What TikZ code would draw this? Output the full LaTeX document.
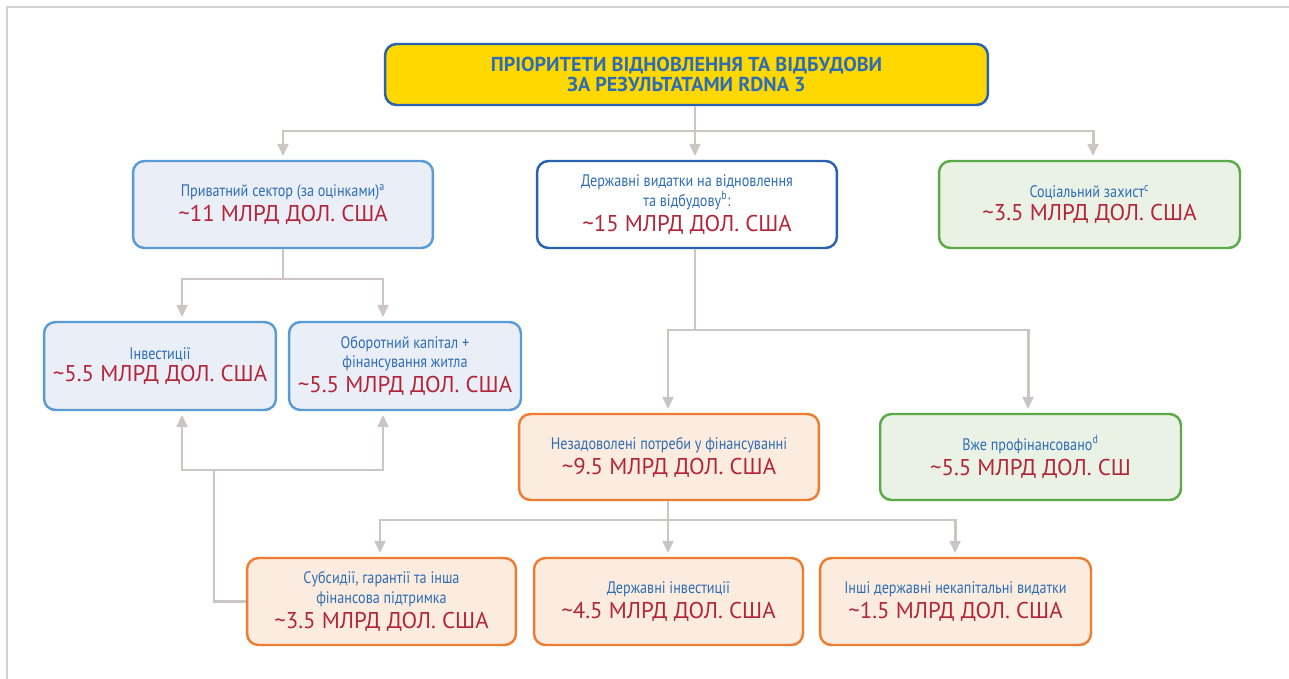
\documentclass[tikz,border=0pt]{standalone}
\usepackage{fontspec}
\setmainfont{PT Sans}
\newfontfamily\headfont[FakeStretch=0.85]{PT Sans}
\newfontfamily\valfont{PT Sans}
\usetikzlibrary{arrows.meta, calc}
\definecolor{rdnagold}{HTML}{FFD800}
\definecolor{rdnablue}{HTML}{2A62B0}
\definecolor{txtblue}{HTML}{2E6DB4}
\definecolor{valred}{HTML}{B3263A}
\definecolor{lbfill}{HTML}{E9EEF7}
\definecolor{lbline}{HTML}{5B9BD5}
\definecolor{gnfill}{HTML}{EAF1E5}
\definecolor{gnline}{HTML}{5AAA47}
\definecolor{orfill}{HTML}{FCECDF}
\definecolor{orline}{HTML}{EE7D31}
\definecolor{linkgray}{HTML}{CBC5C3}
\newcommand{\amount}[1]{\\[2pt]{\valfont\fontsize{13}{15}\selectfont\color{valred}#1}}

\begin{document}
\begin{tikzpicture}[x=0.02cm, y=-0.02cm,
    box/.style={draw, line width=1.4pt, rounded corners=6.5pt, align=center,
        inner sep=0pt, text=txtblue, font=\headfont\fontsize{9.5}{11}\selectfont},
    bluebox/.style={box, draw=lbline, fill=lbfill},
    greenbox/.style={box, draw=gnline, fill=gnfill},
    orangebox/.style={box, draw=orline, fill=orfill},
    link/.style={draw=linkgray, line width=1.7pt},
    arr/.style={link, -{Triangle[width=6pt, length=7pt]}, shorten >=2pt}]
    \useasboundingbox (0,0) rectangle (1289,679);
    % frame
    \draw[draw=linkgray!80, line width=1pt] (7,679) -- (7,7) -- (1289,7);
    % boxes
    \node[box, draw=rdnablue, fill=rdnagold, minimum width=12.06cm, minimum height=1.22cm,
        font=\valfont\bfseries\fontsize{11.5}{11.5}\selectfont] (top) at (686.5,74.5)
        {ПРІОРИТЕТИ ВІДНОВЛЕННЯ ТА ВІДБУДОВИ\\ЗА РЕЗУЛЬТАТАМИ RDNA 3};
    \node[bluebox, minimum width=6cm, minimum height=1.74cm] (priv) at (283,204.5)
        {Приватний сектор (за оцінками)\textsuperscript{a}\amount{\textasciitilde11 МЛРД ДОЛ. США}};
    \node[box, draw=rdnablue, fill=white, minimum width=6cm, minimum height=1.74cm] (gov) at (687,204.5)
        {Державні видатки на відновлення\\та відбудову\textsuperscript{b}:\amount{\textasciitilde15 МЛРД ДОЛ. США}};
    \node[greenbox, minimum width=6.02cm, minimum height=1.74cm] (soc) at (1089.5,204.5)
        {Соціальний захист\textsuperscript{c}\amount{\textasciitilde3.5 МЛРД ДОЛ. США}};
    \node[bluebox, minimum width=4.64cm, minimum height=1.76cm] (inv) at (160,366)
        {Інвестиції\amount{\textasciitilde5.5 МЛРД ДОЛ. США}};
    \node[bluebox, minimum width=4.64cm, minimum height=1.76cm] (work) at (405,366)
        {Оборотний капітал +\\фінансування житла\amount{\textasciitilde5.5 МЛРД ДОЛ. США}};
    \node[orangebox, minimum width=6cm, minimum height=1.72cm] (unmet) at (669,457)
        {Незадоволені потреби у фінансуванні\amount{\textasciitilde9.5 МЛРД ДОЛ. США}};
    \node[greenbox, minimum width=6.02cm, minimum height=1.72cm] (funded) at (1030.5,457)
        {Вже профінансовано\textsuperscript{d}\amount{\textasciitilde5.5 МЛРД ДОЛ. СШ}};
    \node[orangebox, minimum width=5.38cm, minimum height=1.74cm] (subs) at (381.5,601.5)
        {Субсидії, гарантії та інша\\фінансова підтримка\amount{\textasciitilde3.5 МЛРД ДОЛ. США}};
    \node[orangebox, minimum width=5.38cm, minimum height=1.74cm] (ginv) at (668.5,601.5)
        {Державні інвестиції\amount{\textasciitilde4.5 МЛРД ДОЛ. США}};
    \node[orangebox, minimum width=5.42cm, minimum height=1.74cm] (other) at (955.5,601.5)
        {Інші державні некапітальні видатки\amount{\textasciitilde1.5 МЛРД ДОЛ. США}};
    % junctions
    \coordinate (trunk) at (695,131);
    \coordinate (pj) at (283,279);
    \coordinate (gj) at (695,330);
    \coordinate (uj) at (668,520);
    \coordinate (sj) at (214,470);
    % top level
    \draw[link] (top.south -| trunk) -- (trunk);
    \draw[arr] (trunk) -| (priv.north);
    \draw[arr] (trunk) -| (soc.north -| 1093,0);
    \draw[arr] (trunk) -- (trunk |- gov.north);
    % private sector
    \draw[link] (priv.south) -- (pj);
    \foreach \x/\n in {182/inv, 383/work}
        \draw[arr] (pj) -| (\x,0 |- \n.north);
    % public spending
    \draw[link] (gov.south -| gj) -- (gj);
    \draw[arr] (gj) -| (unmet.north -| 668,0);
    \draw[arr] (gj) -| (funded.north -| 1028,0);
    % unmet needs
    \draw[link] (unmet.south -| uj) -- (uj);
    \foreach \x/\n in {380/subs, 668/ginv, 955/other}
        \draw[arr] (uj) -| (\x,0 |- \n.north);
    % subsidies back up
    \draw[link] (subs.west) -| (sj);
    \foreach \x/\n in {182/inv, 383/work}
        \draw[arr] (sj) -| (\x,0 |- \n.south);
\end{tikzpicture}
\end{document}
